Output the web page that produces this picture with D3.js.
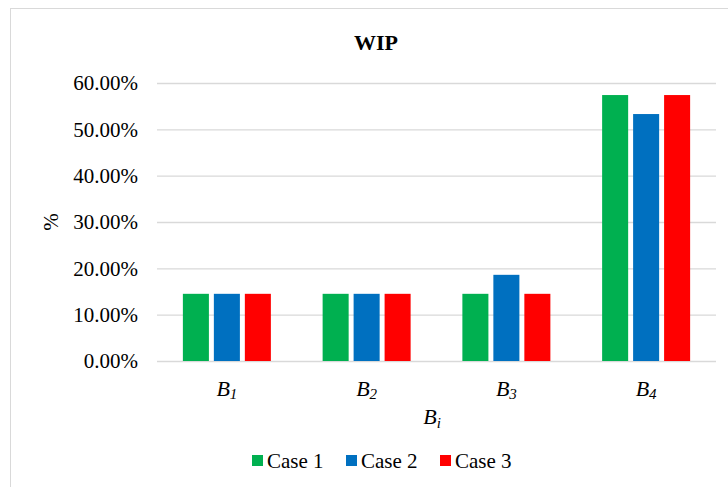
<!DOCTYPE html>
<html>
<head>
<meta charset="utf-8">
<script src="https://cdn.jsdelivr.net/npm/d3@7"></script>
<style>
  html, body { margin: 0; padding: 0; background: #fff; }
</style>
</head>
<body>
<svg id="chart" width="728" height="487"></svg>
<script>
// Work-in-progress share per buffer, for three cases
const categories = ["1", "2", "3", "4"];          // subscripts of B
const seriesNames = ["Case 1", "Case 2", "Case 3"];
const case1 = [0.145, 0.145, 0.145, 0.574];
const case2 = [0.145, 0.145, 0.186, 0.533];
const case3 = [0.145, 0.145, 0.145, 0.574];
const colors = ["#00B050", "#0070C0", "#FF0000"];
const yTicks = [0, 0.1, 0.2, 0.3, 0.4, 0.5, 0.6];

const seriesValues = [case1, case2, case3];
const FONT = '"Liberation Serif"';
const svg = d3.select("#chart");

// chart frame
svg.append("rect")
  .attr("x", 10.5).attr("y", 8.5)
  .attr("width", 740).attr("height", 500)
  .attr("fill", "#fff").attr("stroke", "#d9d9d9").attr("stroke-width", 1);

const plot = { left: 157, right: 716, top: 83, bottom: 361 };

const x0 = d3.scaleBand().domain(categories).range([plot.left, plot.right]).padding(0);
const groupWidth = 88;
const x1 = d3.scaleBand().domain(seriesNames).range([0, groupWidth]).paddingInner(0.16).paddingOuter(0);
const y = d3.scaleLinear().domain([0, 0.6]).range([plot.bottom, plot.top]);

// gridlines + tick labels
const yAxis = d3.axisLeft(y)
  .tickValues(yTicks)
  .tickFormat(d3.format(".2%"))
  .tickSize(-(plot.right - plot.left))
  .tickPadding(19);

const gy = svg.append("g")
  .attr("transform", `translate(${plot.left},0)`)
  .call(yAxis);
gy.select(".domain").remove();
gy.selectAll(".tick line").attr("stroke", "#d9d9d9").attr("stroke-width", 1.3);
gy.selectAll(".tick text")
  .attr("fill", "#000")
  .style("font-family", FONT)
  .style("font-size", "21px");

// bars
const groups = svg.append("g").selectAll("g")
  .data(categories)
  .join("g")
  .attr("transform", d => `translate(${x0(d) + (x0.bandwidth() - groupWidth) / 2},0)`);

groups.selectAll("rect")
  .data((d, i) => seriesNames.map((s, j) => ({ s, v: seriesValues[j][i], c: colors[j] })))
  .join("rect")
  .attr("x", d => x1(d.s))
  .attr("width", x1.bandwidth())
  .attr("y", d => y(d.v))
  .attr("height", d => y(0) - y(d.v))
  .attr("fill", d => d.c);

// category labels: B with italic subscript
const catLabels = svg.append("g").selectAll("text")
  .data(categories)
  .join("text")
  .attr("x", d => x0(d) + x0.bandwidth() / 2)
  .attr("y", 396)
  .attr("text-anchor", "middle")
  .style("font-family", FONT)
  .style("font-size", "22px")
  .style("font-style", "italic");
catLabels.append("tspan").text("B");
catLabels.append("tspan")
  .attr("dy", 3)
  .style("font-size", "15px")
  .text(d => d);

// x axis title
const xt = svg.append("text")
  .attr("x", 432).attr("y", 424)
  .attr("text-anchor", "middle")
  .style("font-family", FONT)
  .style("font-size", "22px")
  .style("font-style", "italic");
xt.append("tspan").text("B");
xt.append("tspan").attr("dy", 4).style("font-size", "15px").text("i");

// y axis title
svg.append("text")
  .attr("transform", "translate(58,222) rotate(-90)")
  .attr("text-anchor", "middle")
  .style("font-family", FONT)
  .style("font-size", "21px")
  .text("%");

// chart title
svg.append("text")
  .attr("x", 376).attr("y", 50)
  .attr("text-anchor", "middle")
  .style("font-family", FONT)
  .style("font-size", "22px")
  .style("font-weight", "bold")
  .text("WIP");

// legend
const legendX = [252, 346, 440];
const legend = svg.append("g").selectAll("g")
  .data(seriesNames)
  .join("g")
  .attr("transform", (d, i) => `translate(${legendX[i]},461)`);
legend.append("rect")
  .attr("x", 0).attr("y", -6)
  .attr("width", 11).attr("height", 11)
  .attr("fill", (d, i) => colors[i]);
legend.append("text")
  .attr("x", 15).attr("y", 7)
  .style("font-family", FONT)
  .style("font-size", "21px")
  .text(d => d);
</script>
</body>
</html>
